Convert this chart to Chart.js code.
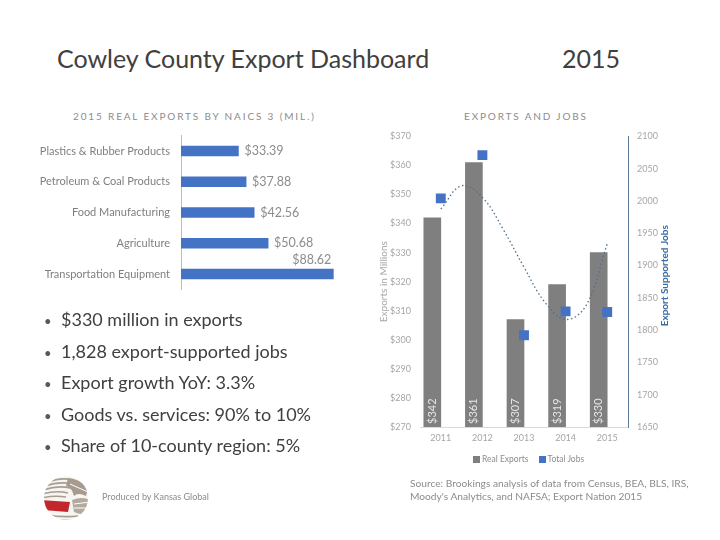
<!DOCTYPE html>
<html><head><meta charset="utf-8">
<script src="https://cdn.jsdelivr.net/npm/chart.js@4.4.0/dist/chart.umd.min.js"></script>
<style>
body{margin:0;width:720px;height:540px;background:#fff;position:relative;overflow:hidden;font-family:Lato,"Open Sans",sans-serif;}
.abs{position:absolute;white-space:nowrap;}
#t1{left:57px;top:43px;font-size:25px;color:#404040;}
#t2{left:562px;top:43px;font-size:25px;color:#404040;}
.ctitle{font-size:10px;letter-spacing:1.85px;color:#8c8c8c;top:110px;}
#ct1{left:73px;}
#ct2{left:464px;}
#bul{left:44px;top:304px;font-size:18px;color:#404040;margin:0;padding:0;list-style:none;}
#bul li{display:block;height:31.5px;line-height:31.5px;}
#bul li::before{content:"\2022";display:inline-block;width:17px;font-size:13px;color:#595959;}
#prod{left:102px;top:491px;font-size:9px;color:#8c8c8c;}
#src{left:410px;top:477px;font-size:10.2px;color:#8c8c8c;line-height:13px;}
#leg{left:473px;top:454px;font-size:8.5px;color:#8c8c8c;}
#leg span.sq{display:inline-block;width:7px;height:7px;margin-right:2px;vertical-align:-0.5px;}
#c1wrap{left:30px;top:118px;width:320px;height:189px;}
#c2wrap{left:378px;top:122px;width:322px;height:348px;}
canvas{display:block;}
</style></head>
<body>
<div class="abs" id="t1">Cowley County Export Dashboard</div>
<div class="abs" id="t2">2015</div>
<div class="abs ctitle" id="ct1">2015 REAL EXPORTS BY NAICS 3 (MIL.)</div>
<div class="abs ctitle" id="ct2">EXPORTS AND JOBS</div>
<div class="abs" id="c1wrap"><canvas id="c1" width="320" height="189"></canvas></div>
<div class="abs" id="c2wrap"><canvas id="c2" width="322" height="348"></canvas></div>
<ul class="abs" id="bul"></ul>
<svg class="abs" style="left:42px;top:474px" width="48" height="48" viewBox="0 0 48 48">
  <defs><clipPath id="gc"><circle cx="24" cy="24" r="22"/></clipPath></defs>
  <g clip-path="url(#gc)">
    <rect x="0" y="0" width="48" height="48" fill="#f7f5f2"/>
    <g stroke="#a89d90" stroke-width="1.6" fill="none">
      <path d="M6 8 Q20 3 30 6"/><path d="M3 12 Q18 7 30 10"/><path d="M1 16 Q16 11 28 14"/>
      <path d="M0 20 Q14 16 26 19"/><path d="M0 24 Q12 21 24 23"/><path d="M2 40 Q18 44 36 42"/><path d="M6 44 Q20 48 34 46"/>
    </g>
    <path d="M26 4 Q36 4 46 14 L44 22 Q36 18 32 22 Q30 14 24 12 Z" fill="#a69b8e"/>
    <path d="M30 26 Q40 22 48 26 L48 38 Q40 42 32 38 Z" fill="#b3a99c"/>
    <path d="M0 26 L28 28 L26 38 L0 36 Z" fill="#c1272d"/>
    <g stroke="#ffffff" stroke-width="1" fill="none">
      <path d="M28 10 L46 18"/><path d="M32 30 L48 28"/><path d="M32 34 L48 34"/>
    </g>
  </g>
</svg>
<div class="abs" id="prod">Produced by Kansas Global</div>
<div class="abs" id="src">Source: Brookings analysis of data from Census, BEA, BLS, IRS,<br>Moody's Analytics, and NAFSA; Export Nation 2015</div>
<div class="abs" id="leg"><span class="sq" style="background:#7f7f7f"></span>Real Exports<span class="sq" style="background:#4472c4;margin-left:10px"></span>Total Jobs</div>
<script>
// ---- data ----
const naicsCategories = ['Plastics & Rubber Products','Petroleum & Coal Products','Food Manufacturing','Agriculture','Transportation Equipment'];
const naicsValues = [33.39, 37.88, 42.56, 50.68, 88.62];
const years = ['2011','2012','2013','2014','2015'];
const realExports = [342, 361, 307, 319, 330];
const totalJobs = [2004, 2071, 1792, 1829, 1828];
const trendYears = [2011, 2011.5, 2012, 2012.5, 2013, 2013.5, 2014, 2014.5, 2015];
const trendValues = [345, 353, 349, 338, 325, 313, 307, 312, 333];
const bullets = ['$330 million in exports','1,828 export-supported jobs','Export growth YoY: 3.3%','Goods vs. services: 90% to 10%','Share of 10-county region: 5%'];

const ul = document.getElementById('bul');
bullets.forEach(b => { const li = document.createElement('li'); li.textContent = b; ul.appendChild(li); });

const FONT = 'Lato';
Chart.defaults.font.family = FONT;
Chart.defaults.animation = false;

// ---- left chart ----
const naicsLabels = {
  id: 'naicsLabels',
  afterDatasetsDraw(chart) {
    const ctx = chart.ctx, meta = chart.getDatasetMeta(0);
    ctx.save();
    ctx.font = '12.5px ' + FONT; ctx.fillStyle = '#8c8c8c'; ctx.textBaseline = 'middle';
    meta.data.forEach((bar, i) => {
      const txt = '$' + naicsValues[i].toFixed(2);
      const w = ctx.measureText(txt).width;
      if (bar.x + 6 + w > chart.width) { ctx.textAlign = 'right'; ctx.fillText(txt, bar.x - 2, bar.y - 14); }
      else { ctx.textAlign = 'left'; ctx.fillText(txt, bar.x + 6, bar.y); }
    });
    ctx.restore();
  }
};
new Chart(document.getElementById('c1'), {
  type: 'bar',
  data: { labels: naicsCategories, datasets: [{ data: naicsValues, backgroundColor: '#4472c4', barThickness: 10 }] },
  options: {
    indexAxis: 'y', responsive: false,
    layout: { padding: { top: 0, right: 16, bottom: 0, left: 0 } },
    plugins: { legend: { display: false }, tooltip: { enabled: false } },
    scales: {
      x: { min: 0, max: 89, display: false },
      y: {
        grid: { display: false, drawTicks: false },
        border: { color: '#bfbfbf' },
        ticks: { color: '#7f7f7f', font: { size: 11 }, padding: 11 },
        afterFit(s) { s.width = 151; }
      }
    }
  },
  plugins: [naicsLabels]
});

// ---- right chart ----
const barLabels = {
  id: 'barLabels',
  afterDatasetsDraw(chart) {
    const ctx = chart.ctx, meta = chart.getDatasetMeta(0);
    const a = chart.chartArea;
    ctx.save();
    ctx.font = '11px ' + FONT; ctx.fillStyle = '#e6e6e6'; ctx.textBaseline = 'middle'; ctx.textAlign = 'left';
    meta.data.forEach((bar, i) => {
      ctx.save();
      ctx.translate(bar.x, a.bottom - 3);
      ctx.rotate(-Math.PI / 2);
      ctx.fillText('$' + realExports[i], 0, 0);
      ctx.restore();
    });
    // right axis title reading bottom-to-top
    ctx.font = 'bold 10px ' + FONT; ctx.fillStyle = '#3a6ea5'; ctx.textAlign = 'center';
    ctx.translate(a.right + 37, (a.top + a.bottom) / 2 - 6);
    ctx.rotate(-Math.PI / 2);
    ctx.fillText('Export Supported Jobs', 0, 0);
    ctx.restore();
  }
};
new Chart(document.getElementById('c2'), {
  data: {
    labels: years,
    datasets: [
      { type: 'bar', data: realExports, backgroundColor: '#7f7f7f', barThickness: 17, yAxisID: 'y', xAxisID: 'x', order: 3 },
      { type: 'line', data: trendYears.map((x, i) => ({ x, y: trendValues[i] })), xAxisID: 'xt', yAxisID: 'y',
        borderColor: '#4f6f90', borderWidth: 1.3, borderDash: [1.5, 2.5], pointRadius: 0, tension: 0.4, fill: false, order: 2 },
      { type: 'line', data: totalJobs, showLine: false, pointStyle: 'rect', pointRadius: 7, pointBackgroundColor: '#4472c4',
        pointBorderWidth: 0, yAxisID: 'y1', xAxisID: 'x', order: 1 }
    ]
  },
  options: {
    responsive: false,
    layout: { padding: { top: 11, right: 27, bottom: 23, left: 0 } },
    plugins: { legend: { display: false }, tooltip: { enabled: false } },
    scales: {
      x: {
        type: 'category', grid: { display: false, drawTicks: false }, border: { color: '#d9d9d9' },
        ticks: { color: '#a6a6a6', font: { size: 9 }, padding: 6 },
        afterFit(s) { s.height = 20; }
      },
      xt: { type: 'linear', min: 2010.5, max: 2015.5, display: false },
      y: {
        position: 'left', min: 270, max: 370,
        grid: { display: false, drawTicks: false }, border: { display: false },
        ticks: { stepSize: 10, color: '#a6a6a6', font: { size: 9 }, padding: 9, callback: v => '$' + v },
        title: { display: true, text: 'Exports in Millions', color: '#a6a6a6', font: { size: 10 }, padding: 0 },
        afterFit(s) { s.width = 42; }
      },
      y1: {
        position: 'right', min: 1650, max: 2100,
        grid: { display: false, drawTicks: false }, border: { color: '#5b7b9b' },
        ticks: { stepSize: 50, color: '#a6a6a6', font: { size: 9 }, padding: 9, callback: v => String(v) },
        afterFit(s) { s.width = 45; }
      }
    }
  },
  plugins: [barLabels]
});
</script>
</body></html>
